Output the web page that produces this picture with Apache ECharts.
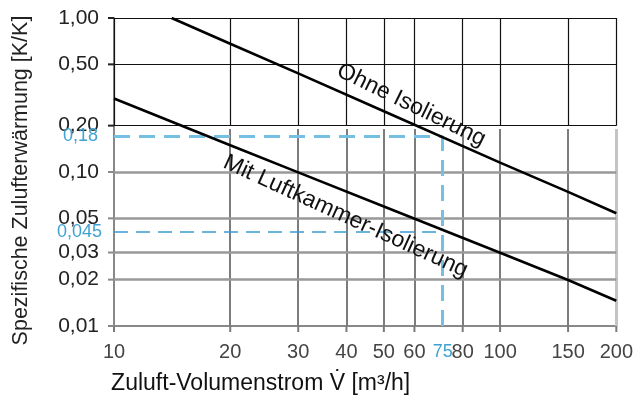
<!DOCTYPE html>
<html><head><meta charset="utf-8">
<script src="https://cdn.jsdelivr.net/npm/echarts@6/dist/echarts.min.js"></script>
<style>html,body{margin:0;padding:0;background:#fff}#c{width:636px;height:400px}</style>
</head><body><div id="c"></div>
<script>
// tick positions
const xTicks = [10, 20, 30, 40, 50, 60, 80, 100, 150, 200];
const yTicks = [0.01, 0.02, 0.03, 0.05, 0.1, 0.2, 0.5, 1];
const yUpper = [0.2, 0.5, 1];
const yLower = [0.02, 0.03, 0.05, 0.1];
// curves
const ohneX = [14.1, 20, 30, 50, 100, 150, 200];
const ohneY = [1.0, 0.68, 0.437, 0.248, 0.115, 0.0743, 0.054];
const mitX = [10, 20, 30, 50, 100, 150, 200];
const mitY = [0.30, 0.149, 0.0995, 0.0597, 0.0299, 0.0199, 0.0146];
// reading guide (drawn position and printed labels)
const guideFlow = 71;
const guideFlowLabel = '75';
const guideOhne = 0.17;
const guideOhneLabel = '0,18';
const guideMit = 0.041;
const guideMitLabel = '0,045';
// curve names and label anchors
const ohneName = 'Ohne Isolierung';
const ohneLabelAt = [58.9, 0.272];
const mitName = 'Mit Luftkammer-Isolierung';
const mitLabelAt = [39.8, 0.0515];

const FONT = '"Liberation Sans", Arial, sans-serif';
const xMin = xTicks[0], xMax = xTicks[xTicks.length - 1];
const yMin = yTicks[0], yMax = yTicks[yTicks.length - 1];
const fmtY = v => Number(v).toFixed(2).replace('.', ',');

const gridLines = [];
xTicks.forEach(x => {
  gridLines.push([{coord: [x, 0.2], lineStyle: {color: '#111', width: 1.2, type: 'solid'}}, {coord: [x, yMax]}]);
  if (x !== xMin) {
    gridLines.push([{coord: [x, yMin], lineStyle: {color: x === xMax ? '#c4c4c4' : '#7c7c7c', width: x === xMax ? 3 : 2, type: 'solid'}}, {coord: [x, 0.19]}]);
  }
});
yUpper.forEach(y => gridLines.push([{coord: [xMin, y], lineStyle: {color: '#111', width: 1.2, type: 'solid'}}, {coord: [xMax, y]}]));
yLower.forEach(y => gridLines.push([{coord: [xMin, y], lineStyle: {color: '#999', width: 2.5, type: 'solid'}}, {coord: [xMax, y]}]));

const blueLbl = {show: true, position: 'start', color: '#3fa2d3', fontSize: 18, fontFamily: FONT};
const guideLines = [
  [{coord: [xMin, guideOhne], lineStyle: {color: '#74bfe2', width: 3, type: [16, 9]}, label: Object.assign({}, blueLbl, {formatter: guideOhneLabel, distance: 16})}, {coord: [guideFlow, guideOhne]}],
  [{coord: [xMin, guideMit], lineStyle: {color: '#3a9bd0', width: 1.5, type: [14, 8]}, label: Object.assign({}, blueLbl, {formatter: guideMitLabel, distance: 12})}, {coord: [guideFlow, guideMit]}],
  [{coord: [guideFlow, yMin], lineStyle: {color: '#74bfe2', width: 3, type: [16, 9]}, label: Object.assign({}, blueLbl, {formatter: guideFlowLabel, distance: 17})}, {coord: [guideFlow, guideOhne]}]
];

const txt = (name, at, rot) => ({
  symbol: 'circle', symbolSize: 0, silent: true, z: 10,
  itemStyle: {color: 'rgba(0,0,0,0)'},
  label: {show: true, position: 'inside', rotate: rot, color: '#111', fontSize: 23, fontFamily: FONT, formatter: name},
  data: [{coord: at}]
});

// short outward tick marks, positioned through the axes' own scales
const tickSeries = (pts, dx, dy, colorFn) => ({
  type: 'custom', silent: true, z: 6, clip: false,
  data: pts,
  renderItem: (params, api) => {
    const p = api.coord([api.value(0), api.value(1)]);
    return {type: 'line', shape: {x1: p[0], y1: p[1], x2: p[0] + dx, y2: p[1] + dy},
            style: {stroke: colorFn(api.value(0), api.value(1)), lineWidth: 2}};
  }
});

const chart = echarts.init(document.getElementById('c'), null, {renderer: 'canvas'});
chart.setOption({
  animation: false,
  backgroundColor: '#fff',
  grid: {left: 114, right: 19, top: 18, bottom: 73},
  xAxis: {
    type: 'log', logBase: 10, min: xMin, max: xMax,
    name: 'Zuluft-Volumenstrom V\u0307 [m³/h]', nameLocation: 'middle', nameGap: 46,
    nameTextStyle: {color: '#111', fontSize: 23, fontFamily: FONT, padding: [0, 209, 0, 0]},
    axisLine: {show: true, lineStyle: {color: '#888', width: 2}},
    axisTick: {show: false},
    axisLabel: {color: '#444', fontSize: 20, fontFamily: FONT, margin: 16, customValues: xTicks},
    splitLine: {show: false}, minorTick: {show: false}
  },
  yAxis: {
    type: 'log', logBase: 10, min: yMin, max: yMax,
    name: 'Spezifische Zulufterwärmung [K/K]', nameLocation: 'middle', nameGap: 82,
    nameTextStyle: {color: '#222', fontSize: 21.5, fontFamily: FONT, padding: [0, 17, 0, 0]},
    axisLine: {show: true, lineStyle: {color: '#888', width: 2}},
    axisTick: {show: false},
    axisLabel: {color: '#222', fontSize: 21, fontFamily: FONT, margin: 15, customValues: yTicks, formatter: fmtY},
    splitLine: {show: false}
  },
  series: [
    {type: 'line', name: 'grid', data: [], z: 1, silent: true,
     markLine: {silent: true, z: 1, symbol: ['none', 'none'], lineStyle: {type: 'solid'}, label: {show: false}, animation: false, data: gridLines}},
    {type: 'line', name: 'guide', data: [], z: 2, silent: true,
     markLine: {silent: true, z: 2, symbol: ['none', 'none'], animation: false, data: guideLines}},
    tickSeries(xTicks.map(x => [x, yMin]), 0, 6, () => '#7a7a7a'),
    tickSeries(yTicks.map(y => [xMin, y]), -6, 0, (x, y) => y >= 0.2 ? '#222' : '#8a8a8a'),
    {type: 'line', name: ohneName, data: ohneX.map((x, i) => [x, ohneY[i]]), z: 5, symbol: 'none',
     lineStyle: {color: '#000', width: 2.6}, markPoint: txt(ohneName, ohneLabelAt, -26)},
    {type: 'line', name: mitName, data: mitX.map((x, i) => [x, mitY[i]]), z: 5, symbol: 'none',
     lineStyle: {color: '#000', width: 2.6}, markPoint: txt(mitName, mitLabelAt, -24.5)}
  ]
});
</script></body></html>
